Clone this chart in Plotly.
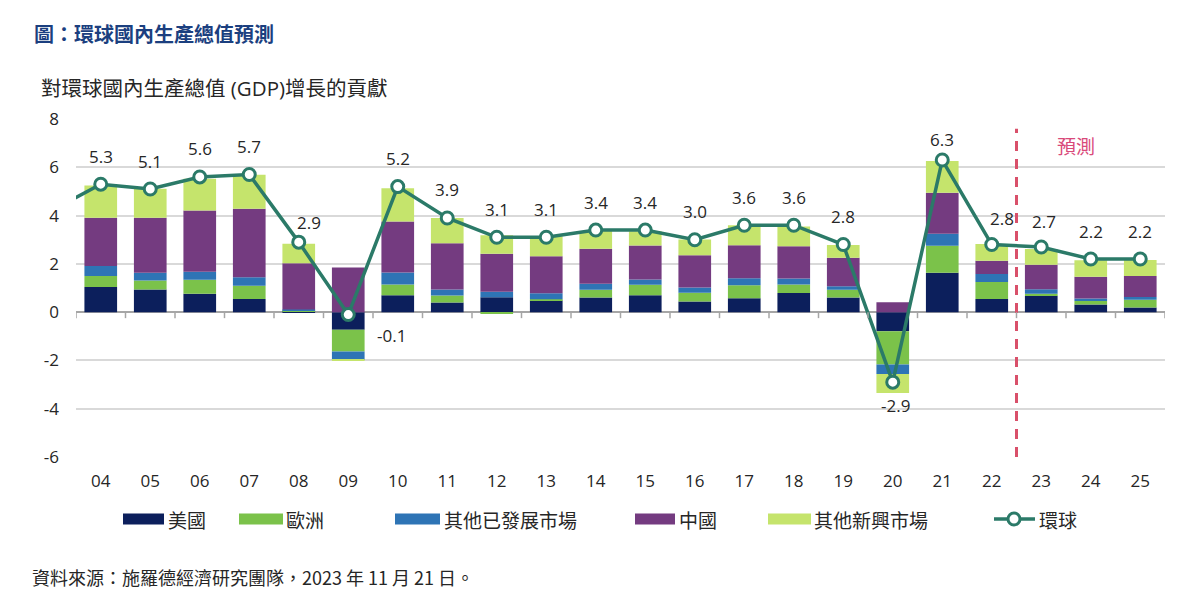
import plotly.graph_objects as go

# ---------------- data ----------------
years = [2004, 2005, 2006, 2007, 2008, 2009, 2010, 2011, 2012, 2013, 2014,
         2015, 2016, 2017, 2018, 2019, 2020, 2021, 2022, 2023, 2024, 2025]
year_labels = ["04", "05", "06", "07", "08", "09", "10", "11", "12", "13", "14",
               "15", "16", "17", "18", "19", "20", "21", "22", "23", "24", "25"]
y_ticks = [-6, -4, -2, 0, 2, 4, 6, 8]
y_tick_labels = ["-6", "-4", "-2", "0", "2", "4", "6", "8"]

us = [1.04, 0.94, 0.76, 0.54, 0.02, -0.73, 0.70, 0.40, 0.62, 0.48, 0.61,
      0.70, 0.44, 0.58, 0.79, 0.61, -0.79, 1.63, 0.54, 0.68, 0.32, 0.19]
europe = [0.46, 0.37, 0.58, 0.55, 0.05, -0.90, 0.44, 0.29, -0.08, 0.05, 0.32,
          0.43, 0.36, 0.53, 0.36, 0.32, -1.38, 1.12, 0.71, 0.08, 0.14, 0.32]
other_dev = [0.41, 0.32, 0.33, 0.36, 0.04, -0.35, 0.50, 0.25, 0.22, 0.25, 0.25,
             0.22, 0.22, 0.29, 0.24, 0.14, -0.39, 0.50, 0.33, 0.19, 0.11, 0.12]
china = [2.00, 2.28, 2.54, 2.83, 1.92, 1.85, 2.11, 1.91, 1.58, 1.54, 1.45,
         1.41, 1.34, 1.37, 1.34, 1.18, 0.41, 1.70, 0.55, 1.01, 0.90, 0.87]
other_em = [1.34, 1.20, 1.31, 1.41, 0.80, -0.04, 1.38, 1.05, 0.77, 0.82, 0.73,
            0.59, 0.65, 0.83, 0.82, 0.53, -0.79, 1.31, 0.69, 0.66, 0.68, 0.66]

world_years = [2003] + years
world = [4.2, 5.3, 5.1, 5.6, 5.7, 2.9, -0.1, 5.2, 3.9, 3.1, 3.1, 3.4,
         3.4, 3.0, 3.6, 3.6, 2.8, -2.9, 6.3, 2.8, 2.7, 2.2, 2.2]

series_names = ["美國", "歐洲", "其他已發展市場", "中國", "其他新興市場"]
world_name = "環球"
forecast_start = 2022.5

# ---------------- style ----------------
colors = ["#0c1f5c", "#7bc24a", "#2e74b5", "#743b80", "#c5e46c"]
line_color = "#2b7a68"
font_fam = "Open Sans, Noto Sans CJK TC, sans-serif"
cjk_fam = "Noto Sans CJK TC, sans-serif"
text_col = "#262626"

L, R, T, B = 76, 35, 119, 159
W, H = 1200, 616
pw, ph = W - L - R, H - T - B


def px(x):
    return (x - L) / pw


def py(y):
    return (H - B - y) / ph


fig = go.Figure()
for name, vals, col in zip(series_names, [us, europe, other_dev, china, other_em], colors):
    fig.add_trace(go.Bar(x=years, y=vals, name=name, marker_color=col,
                         marker_line_width=0, width=0.66, showlegend=False))

fig.add_trace(go.Scatter(x=world_years, y=world, name=world_name, mode="lines+markers",
                         line=dict(color=line_color, width=3.5),
                         marker=dict(size=12, color="white",
                                     line=dict(color=line_color, width=3)),
                         showlegend=False))

# data labels
label_shift = {2008: (10, 20), 2009: (43, -21), 2020: (3, -23),
               2021: (0, 21), 2022: (10, 26), 2023: (3, 25)}
annotations = []
for yr, v in zip(world_years, world):
    if yr < years[0]:
        continue
    dx, dy = label_shift.get(yr, (0, 28))
    annotations.append(dict(x=yr, y=v, xref="x", yref="y", text=f"{v:.1f}",
                            showarrow=False, xshift=dx, yshift=dy,
                            xanchor="center", yanchor="middle",
                            font=dict(family=font_fam, size=17, color=text_col)))

# forecast text
annotations.append(dict(x=2023.7, y=6.9, xref="x", yref="y", text="預測", showarrow=False,
                        font=dict(family=cjk_fam, size=19, color="#d9497a")))

# titles and source
annotations.append(dict(x=px(32), y=py(33), xref="paper", yref="paper", text="<b>圖：環球國內生產總值預測</b>",
                        showarrow=False, xanchor="left", yanchor="middle",
                        font=dict(family=cjk_fam, size=20, color="#1b3f7f")))
annotations.append(dict(x=px(39), y=py(88), xref="paper", yref="paper",
                        text="對環球國內生產總值 (GDP)增長的貢獻",
                        showarrow=False, xanchor="left", yanchor="middle",
                        font=dict(family=font_fam, size=20.5, color=text_col)))
annotations.append(dict(x=px(30), y=py(577), xref="paper", yref="paper",
                        text="資料來源：施羅德經濟研究團隊，2023 年 11 月 21 日。",
                        showarrow=False, xanchor="left", yanchor="middle",
                        font=dict(family=cjk_fam, size=18, color=text_col)))

shapes = []
# forecast divider
shapes.append(dict(type="line", xref="x", yref="y", x0=forecast_start, x1=forecast_start,
                   y0=-6, y1=7.6, line=dict(color="#d9506a", width=3, dash="10px,8px")))
# tick marks on the zero line at category boundaries
for yr in [years[0] - 0.5] + [y + 0.5 for y in years]:
    shapes.append(dict(type="line", xref="x", yref="y", ysizemode="pixel", yanchor=0,
                       x0=yr, x1=yr, y0=0, y1=-6, line=dict(color="#a6a6a6", width=1.5)))

# manual legend
leg_y = 519
swatch_x = [(123, 164), (239, 283), (395, 440), (635, 675), (768, 811)]
text_x = [166, 284, 442, 677, 812]
for (x0, x1), tx, col, name in zip(swatch_x, text_x, colors, series_names):
    shapes.append(dict(type="rect", xref="paper", yref="paper", x0=px(x0), x1=px(x1),
                       y0=py(leg_y + 5.5), y1=py(leg_y - 5.5), fillcolor=col, line_width=0))
    annotations.append(dict(x=px(tx), y=py(leg_y), xref="paper", yref="paper", text=name,
                            showarrow=False, xanchor="left", yanchor="middle",
                            font=dict(family=cjk_fam, size=19, color=text_col)))
shapes.append(dict(type="line", xref="paper", yref="paper", x0=px(994), x1=px(1035),
                   y0=py(leg_y), y1=py(leg_y), line=dict(color=line_color, width=3.5)))
shapes.append(dict(type="circle", xref="paper", yref="paper", xsizemode="pixel", ysizemode="pixel",
                   xanchor=px(1014), yanchor=py(leg_y), x0=-6, x1=6, y0=-6, y1=6,
                   fillcolor="white", line=dict(color=line_color, width=3)))
annotations.append(dict(x=px(1037), y=py(leg_y), xref="paper", yref="paper", text=world_name,
                        showarrow=False, xanchor="left", yanchor="middle",
                        font=dict(family=cjk_fam, size=19, color=text_col)))

fig.update_layout(
    width=W, height=H, barmode="relative", bargap=0.34,
    margin=dict(l=L, r=R, t=T, b=B, autoexpand=False),
    paper_bgcolor="white", plot_bgcolor="white",
    font=dict(family=font_fam, size=17, color=text_col),
    xaxis=dict(range=[years[0] - 0.5, years[-1] + 0.5], tickvals=years, ticktext=year_labels,
               showgrid=False, showline=False, zeroline=False, ticks="",
               ticklabelstandoff=12, tickfont=dict(size=17, color=text_col)),
    yaxis=dict(range=[-6, 8], tickvals=y_ticks, ticktext=y_tick_labels,
               showgrid=True, gridcolor="#d9d9d9", gridwidth=1.5,
               zeroline=True, zerolinecolor="#a6a6a6", zerolinewidth=1.5,
               showline=False, ticks="", ticklabelstandoff=16,
               tickfont=dict(size=17, color=text_col)),
    annotations=annotations, shapes=shapes, showlegend=False,
)

fig.write_html("out.html")
